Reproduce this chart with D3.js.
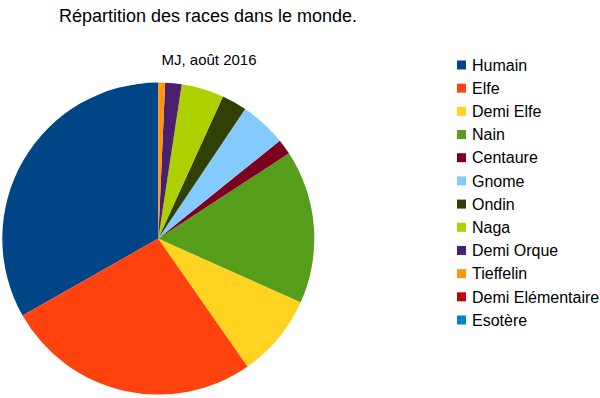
<!DOCTYPE html>
<html>
<head>
<meta charset="utf-8">
<script src="https://cdn.jsdelivr.net/npm/d3@7"></script>
<style>
  body { margin: 0; background: #fff; }
  text { font-family: "Liberation Sans", Arial, sans-serif; fill: #000; }
</style>
</head>
<body>
<div id="chart"></div>
<script>
var races = ["Humain", "Elfe", "Demi Elfe", "Nain", "Centaure", "Gnome", "Ondin", "Naga", "Demi Orque", "Tieffelin", "Demi Elémentaire", "Esotère"];
var effectifs = [33.2, 26.5, 8.6, 15.9, 1.6, 4.8, 2.6, 4.4, 1.7, 0.7, 0, 0];
var couleurs = ["#004586", "#ff420e", "#ffd320", "#579d1c", "#7e0021", "#83caff", "#314004", "#aecf00", "#4b1f6f", "#ff950e", "#c5000b", "#0084d1"];

(function() {
  var width = 600, height = 398;

  var svg = d3.select("#chart")
    .append("svg")
    .attr("width", width)
    .attr("height", height);

  var datapoints = races.map(function(r, i) {
    return { race: r, value: effectifs[i] };
  });

  var color = d3.scaleOrdinal().domain(races).range(couleurs);

  // libreoffice draws the slices counter-clockwise from the top
  var pie = d3.pie()
    .sort(null)
    .value(function(d) { return d.value; })
    .startAngle(0)
    .endAngle(-2 * Math.PI);

  var arc = d3.arc().innerRadius(0).outerRadius(156);

  var g = svg.append("g")
    .attr("transform", "translate(158.3,238.6)");

  g.selectAll(".slice")
    .data(pie(datapoints))
    .enter().append("path")
    .attr("class", "slice")
    .attr("d", arc)
    .attr("fill", function(d) { return color(d.data.race); });

  svg.append("text")
    .attr("x", 208)
    .attr("y", 22)
    .attr("font-size", 18)
    .style("text-anchor", "middle")
    .text("Répartition des races dans le monde.");

  svg.append("text")
    .attr("x", 209)
    .attr("y", 65)
    .attr("font-size", 15)
    .style("text-anchor", "middle")
    .text("MJ, août 2016");

  var legendY = d3.scalePoint().domain(races).range([65, 320]);

  var legend = svg.selectAll(".legend")
    .data(races)
    .enter().append("g")
    .attr("class", "legend")
    .attr("transform", function(d) { return "translate(457," + legendY(d) + ")"; });

  legend.append("rect")
    .attr("x", 0)
    .attr("y", -4.5)
    .attr("width", 9)
    .attr("height", 9)
    .attr("fill", function(d) { return color(d); });

  legend.append("text")
    .attr("x", 15)
    .attr("dy", "0.36em")
    .attr("font-size", 16)
    .text(function(d) { return d; });
})();
</script>
</body>
</html>
